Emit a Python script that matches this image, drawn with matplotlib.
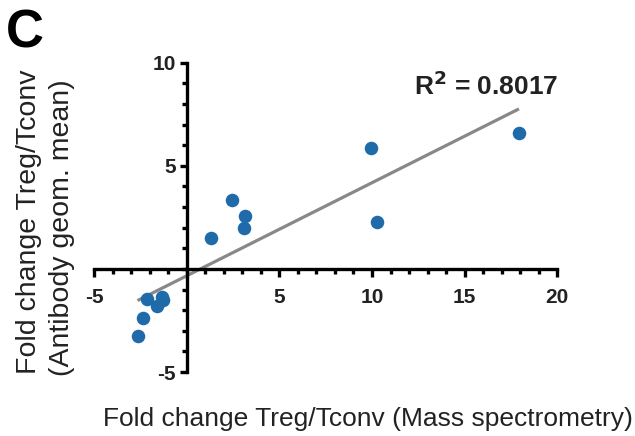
import numpy as np
import matplotlib
matplotlib.use("Agg")
import matplotlib.pyplot as plt
from matplotlib.ticker import MultipleLocator, FixedLocator

plt.rcParams['font.family'] = ['Liberation Sans', 'DejaVu Sans']
plt.rcParams['axes.unicode_minus'] = False

mass_spec = [17.93, 9.93, 10.25, 2.47, 3.17, 3.12, 1.33, -2.16, -1.33, -1.26, -1.62, -2.38, -2.65]
antibody = [6.58, 5.85, 2.26, 3.33, 2.55, 1.97, 1.48, -1.48, -1.35, -1.51, -1.81, -2.37, -3.26]
x_ticks = [-5, 5, 10, 15, 20]
y_ticks = [-5, 5, 10]
r2_label = "R$^\\mathbf{2}$ = 0.8017"

fig = plt.figure(figsize=(6.35, 4.36), dpi=100)
ax = fig.add_axes([94/635, 1 - 372/436, (557.3 - 94)/635, (372 - 62.7)/436])
ax.set_xlim(-5, 20)
ax.set_ylim(-5, 10)

for s in ['top', 'right']:
    ax.spines[s].set_visible(False)
ax.spines['left'].set_position(('data', 0))
ax.spines['bottom'].set_position(('data', 0))
for s in ['left', 'bottom']:
    ax.spines[s].set_linewidth(2.4)
    ax.spines[s].set_color('black')

ax.xaxis.set_major_locator(FixedLocator(x_ticks))
ax.yaxis.set_major_locator(FixedLocator(y_ticks))
ax.xaxis.set_minor_locator(MultipleLocator(1))
ax.yaxis.set_minor_locator(MultipleLocator(1))
ax.tick_params(axis='x', which='major', direction='out', length=6, width=2.4, pad=8,
               labelsize=15, labelcolor='#222222')
ax.tick_params(axis='y', which='major', direction='out', length=5, width=2.4, pad=3,
               labelsize=15, labelcolor='#222222')
ax.tick_params(which='minor', direction='out', length=3.5, width=2.4)
for lab in ax.get_xticklabels() + ax.get_yticklabels():
    lab.set_fontweight('bold')

ax.scatter(mass_spec, antibody, s=95, color='#1f6aa8', zorder=3, linewidths=0)

xa = np.array(mass_spec)
ya = np.array(antibody)
slope, intercept = np.polyfit(xa, ya, 1)
xl = np.array([xa.min(), xa.max()])
ax.plot(xl, slope * xl + intercept, color='#888888', lw=2.3, zorder=2, solid_capstyle='butt')

fig.text(486/635, 1 - 86/436, r2_label, ha='center', va='center',
         fontsize=19, fontweight='bold', color='#222222')

fig.text(367.5/635, 1 - 419/436, "Fold change Treg/Tconv (Mass spectrometry)",
         ha='center', va='center', fontsize=19, color='#222222')
fig.text(29/635, 1 - 222/436, "Fold change Treg/Tconv", rotation=90,
         ha='center', va='center', fontsize=20.5, color='#222222')
fig.text(62/635, 1 - 228/436, "(Antibody geom. mean)", rotation=90,
         ha='center', va='center', fontsize=20.5, color='#222222')
fig.text(25/635, 1 - 34/436, "C", ha='center', va='center', fontsize=38,
         fontweight='bold', color='black')

fig.savefig("out.png", dpi=100)
